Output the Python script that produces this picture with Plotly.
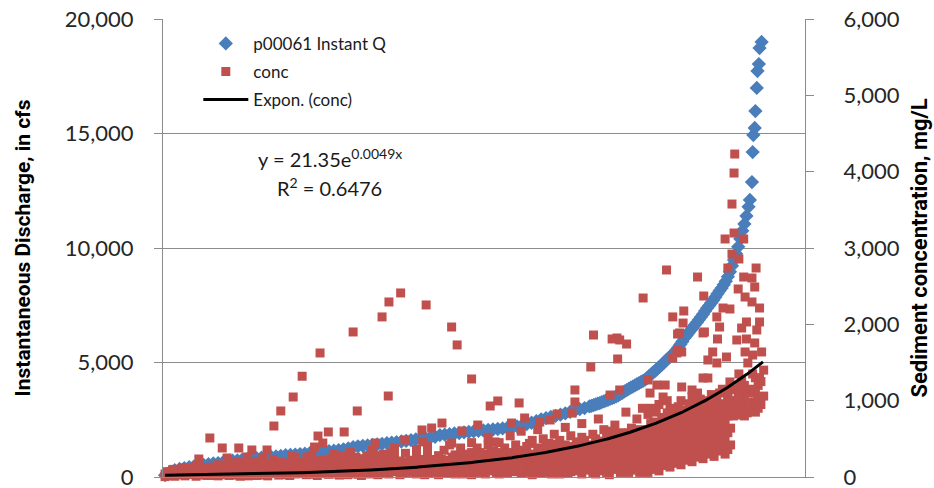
import math
import plotly.graph_objects as go

# ---- Data ----
# Blue series: sample rank (index) and instantaneous discharge, cfs
q_index = [1, 8, 15, 22, 29, 36, 43, 50, 57, 64, 71, 78, 85, 92, 99, 106, 113, 120, 127, 134,
           141, 148, 155, 162, 169, 176, 183, 190, 197, 204, 211, 218, 225, 232, 239, 246, 253, 260, 267, 274,
           281, 288, 295, 302, 309, 316, 323, 330, 337, 344, 351, 358, 365, 372, 379, 386, 393, 400, 407, 414,
           421, 428, 435, 442, 449, 456, 463, 470, 477, 484, 491, 498, 505, 512, 519, 526, 533, 540, 547, 554,
           561, 568, 575, 582, 589, 596, 603, 610, 617,
           620, 623, 626, 629, 632, 635, 638, 641, 644, 647, 650, 653, 656, 659, 662, 665, 668, 671, 674, 677,
           680, 683, 686, 689, 692, 695, 698, 701, 704, 707, 710, 713, 716, 719, 722, 725, 728, 731, 734, 737,
           740, 743, 746, 749, 752, 755, 758, 761, 764, 767, 770, 773, 776, 779, 782, 785, 788, 791, 794, 797,
           800, 803, 806, 809, 812, 815, 818, 821, 824, 827, 830, 833, 836, 839, 842, 845, 848, 850,
           853, 854, 855, 857, 858, 860, 861, 863, 864, 867]
q_cfs = [80, 220, 300, 350, 390, 430, 460, 500, 530, 560, 590, 610, 640, 680, 710, 730, 760, 780, 800, 820,
         840, 860, 880, 900, 920, 950, 965, 980, 1000, 1020, 1040, 1070, 1090, 1110, 1130, 1150, 1175, 1210, 1250, 1300,
         1340, 1360, 1380, 1400, 1420, 1450, 1475, 1495, 1520, 1550, 1580, 1610, 1640, 1665, 1690, 1720, 1755, 1830, 1850, 1870,
         1900, 1920, 1945, 1970, 1995, 2020, 2040, 2060, 2075, 2095, 2120, 2150, 2180, 2215, 2250, 2310, 2370, 2440, 2520, 2570,
         2620, 2670, 2720, 2780, 2840, 2900, 2960, 3010, 3080,
         3110, 3140, 3170, 3200, 3230, 3270, 3300, 3340, 3370, 3410, 3440, 3480, 3520, 3570, 3630, 3680, 3740, 3790, 3850, 3900,
         3950, 4000, 4050, 4100, 4150, 4200, 4250, 4330, 4410, 4490, 4580, 4650, 4730, 4820, 4900, 4990, 5080, 5170, 5250, 5340,
         5430, 5540, 5660, 5790, 5920, 6070, 6180, 6300, 6410, 6520, 6640, 6750, 6870, 6990, 7110, 7250, 7380, 7490, 7610, 7730,
         7860, 8000, 8130, 8250, 8400, 8550, 8750, 8960, 9220, 9480, 9750, 10050, 10400, 10750, 11050, 11400, 11800, 12100,
         12880, 14190, 14930, 15240, 15980, 16990, 17730, 18030, 18730, 19000]

# Red series: sediment concentration, mg/L, grouped by sample rank (dense band)
conc_columns = [
    (1, [5, 40]), (8, [20, 70]), (15, [10, 50, 100]), (22, [30, 80]), (30, [15, 60, 120]),
    (38, [35, 90]), (46, [10, 70, 140]), (54, [40, 100]), (62, [20, 80]), (70, [50, 130]),
    (78, [15, 90, 160]), (86, [40, 110]), (94, [20, 70, 150]), (102, [45, 120]), (110, [10, 80, 180]),
    (118, [30, 110]), (126, [60, 140]), (134, [20, 90, 200]), (142, [40, 120]), (150, [15, 70, 160]),
    (158, [50, 110, 230]), (166, [25, 90, 150]), (174, [60, 130]), (182, [20, 100, 180]), (190, [40, 150, 260]),
    (198, [70, 120]), (206, [30, 100, 200]), (214, [55, 160, 280]), (222, [20, 90, 140]), (230, [60, 130, 220]),
    (238, [35, 110, 190]), (246, [80, 150, 300]), (254, [25, 100, 170]), (262, [60, 130, 240]), (270, [40, 90, 200, 320]),
    (278, [70, 150, 260]), (286, [20, 110, 190]), (294, [50, 140, 280]), (302, [85, 170, 350]), (310, [30, 120, 230]),
    (318, [60, 160, 300]), (326, [40, 100, 210]), (334, [80, 150, 270, 380]), (342, [30, 120, 200]), (350, [60, 170, 310]),
    (358, [100, 140, 220]), (366, [40, 130, 260, 360]), (374, [80, 190]), (382, [50, 150, 300, 400]), (390, [110, 230]),
    (398, [30, 170, 280]), (406, [70, 140, 350]), (414, [100, 220, 420]), (422, [40, 160, 290]), (430, [90, 200, 380]),
    (438, [60, 130, 260]), (446, [30, 170, 320, 450]), (454, [100, 240, 380]), (462, [60, 190, 300]), (470, [130, 270, 420, 520]),
    (478, [80, 200, 340]), (486, [40, 160, 290, 450]), (494, [110, 240, 380]), (502, [70, 180, 320, 540]), (510, [140, 270, 420]),
    (518, [50, 200, 350, 600]), (526, [100, 250, 400]), (534, [30, 170, 300, 480]), (542, [120, 230, 380, 620]), (550, [60, 200, 330, 500]),
    (558, [140, 280, 440]), (566, [90, 220, 370, 560]), (574, [40, 170, 310, 480]), (582, [120, 250, 420, 650]), (590, [70, 200, 350, 540]),
    (598, [150, 300, 460]), (606, [40, 180, 340, 520, 700]), (614, [110, 260, 420]), (622, [60, 200, 370, 560]), (630, [140, 300, 470, 760]),
    (638, [80, 230, 400, 620]), (646, [30, 180, 330, 510]), (654, [120, 280, 450, 680]), (662, [60, 220, 390, 580]), (670, [160, 330, 500, 850]),
    (678, [90, 250, 440, 640]), (686, [190, 360, 540, 760]), (694, [120, 290, 470, 900]), (702, [60, 230, 400, 620, 820]), (710, [160, 340, 520, 720]),
    (718, [80, 270, 450, 650, 950]), (726, [200, 380, 580, 780]), (734, [130, 300, 500, 700, 900]), (742, [240, 420, 620, 850]), (750, [160, 350, 560, 760, 1000]),
    (758, [280, 470, 680, 880]), (766, [200, 400, 600, 820, 1050]), (774, [320, 520, 740, 950]), (782, [240, 430, 650, 860]), (790, [350, 560, 780, 1000]),
    (798, [270, 470, 700, 920]), (806, [380, 600, 820, 1100]), (814, [300, 500, 720, 960]), (822, [420, 640, 880, 1150]), (830, [850, 1000]),
    (838, [920, 1250]), (846, [840, 1100]), (854, [980, 1350]), (862, [900, 1200]), (870, [1060, 1400]),
]
conc_columns_mid = [
    (4, [25, 70]), (12, [45, 95]), (19, [30, 75]), (26, [55, 110]), (34, [40, 95]), (42, [60, 115]),
    (50, [25, 85]), (58, [65, 125]), (66, [35, 105]), (74, [20, 90]), (82, [60, 130]), (90, [30, 85]),
    (98, [50, 110]), (106, [25, 95, 160]), (114, [55, 130]), (122, [15, 85, 165]), (130, [45, 115]), (138, [65, 150]),
    (146, [25, 95, 175]), (154, [45, 125]), (162, [80, 160]), (170, [40, 115, 190]), (178, [30, 95, 165]), (186, [60, 140]),
    (194, [95, 200]), (202, [45, 160]), (210, [75, 130, 240]), (218, [35, 115, 210]), (226, [70, 180]), (234, [45, 100, 170]),
    (242, [60, 140, 240]), (250, [40, 120, 210]), (258, [85, 160, 280]), (266, [30, 110, 170]), (274, [60, 140, 250]), (282, [35, 100, 200]),
    (290, [80, 160, 240]), (298, [40, 120, 210]), (306, [60, 140, 280]), (314, [90, 190, 270]), (322, [45, 130, 240]), (330, [70, 180, 320]),
    (338, [110, 210]), (346, [50, 150]), (354, [80, 190]), (362, [60, 180]), (370, [110, 230]), (378, [30, 130]),
    (386, [90, 200]), (394, [60, 160]), (402, [100, 230]), (410, [50, 180]), (418, [130, 260]), (426, [70, 230]),
    (434, [40, 150, 300]), (442, [100, 220]), (450, [60, 200]), (458, [140, 320]), (466, [40, 230]), (474, [100, 190, 340]),
    (482, [60, 250]), (490, [130, 320]), (498, [50, 210]), (506, [110, 250]), (514, [70, 310]), (522, [180, 330]),
    (530, [60, 220, 440]), (538, [100, 270]), (546, [50, 160, 300]), (554, [110, 260, 420]), (562, [40, 180, 330]), (570, [130, 270, 430]),
    (578, [90, 230, 390]), (586, [50, 180, 330]), (594, [110, 250, 400]), (602, [80, 230, 380]), (610, [150, 300, 480]), (618, [90, 240, 400]),
    (626, [40, 180, 330, 500]), (634, [110, 260, 420]), (642, [60, 200, 360, 540]), (650, [100, 250, 400, 600]), (658, [180, 350, 520]), (666, [100, 280, 450]),
    (674, [60, 240, 410, 580]), (682, [140, 320, 500]), (690, [60, 230, 420, 620]), (698, [160, 340, 540]), (706, [100, 300, 480, 700, 900]), (714, [220, 420, 600, 850]),
    (722, [150, 360, 540, 740]), (730, [250, 450, 640, 840, 1000]), (738, [180, 380, 560, 780]), (746, [300, 500, 700, 920]), (754, [220, 420, 620, 830]), (762, [330, 540, 750, 960]),
    (770, [260, 460, 680, 880]), (778, [380, 600, 820, 1020]), (786, [300, 520, 720, 940]), (794, [420, 620, 850, 1080]), (802, [340, 560, 760, 1000]), (810, [460, 680, 900, 1150]),
    (818, [360, 580, 800, 1050]), (826, [800, 950, 1150]), (834, [880, 1100, 1350]), (842, [800, 1000, 1200]), (850, [900, 1150]), (858, [850, 1100, 1300]),
    (866, [950, 1250]),
]
conc_outliers = [
    (50, 236), (66, 511), (84, 380), (91, 249), (108, 380), (105, 197), (127, 354), (120, 262), (149, 354), (143, 249),
    (159, 668), (169, 865), (187, 1048), (200, 1320), (226, 1625), (274, 1900), (316, 2097), (326, 2293), (343, 2411), (380, 2254),
    (417, 1965), (425, 1730), (446, 1284), (325, 1061), (280, 865), (261, 590), (473, 930), (484, 996), (515, 970), (374, 616),
    (388, 642), (403, 707), (432, 603), (455, 681), (504, 707), (523, 773), (545, 720), (560, 747), (306, 445), (349, 485),
    (375, 459), (417, 445), (480, 459), (218, 393), (223, 537), (230, 445), (238, 590), (185, 275), (207, 262), (245, 249),
    (258, 197),
    (729, 2712), (774, 2620), (695, 2345), (783, 2371), (738, 2097), (754, 2175), (745, 1873), (753, 2017), (623, 1860), (650, 1808),
    (657, 1821), (671, 1742), (658, 1546), (619, 1441), (782, 1887), (744, 1625), (738, 1559), (751, 1638), (596, 1140), (596, 983),
    (570, 825), (647, 1074), (661, 1140), (592, 838), (702, 1271), (715, 1205), (727, 1205), (724, 1048), (705, 1100), (751, 1179),
    (782, 1297), (821, 1245), (833, 1074), (831, 812), (806, 904), (802, 786), (787, 524), (811, 576), (767, 707), (751, 616),
    (828, 4231), (827, 3982), (824, 3576), (827, 3196), (814, 3118), (841, 3118), (824, 2921), (834, 2856), (818, 2738), (859, 2738),
    (841, 2620), (853, 2607), (857, 2489), (833, 2463), (843, 2358), (853, 2293), (864, 2214), (811, 2214), (821, 2201), (802, 2097),
    (806, 1965), (845, 2031), (864, 2031), (838, 1952), (860, 1926), (831, 1795), (845, 1808), (857, 1756), (803, 1808), (843, 1638),
    (867, 1638), (854, 1598), (796, 1638), (789, 1533), (816, 1572), (802, 1494), (847, 1494), (864, 1297), (789, 1297), (861, 1048),
    (835, 1179), (818, 1048), (748, 1887), (745, 1664), (784, 1900), (661, 1795), (774, 1100), (766, 1140),
]

# Exponential trendline printed on the chart: y = 21.35 e^(0.0049x)
trend_a = 21.35
trend_b = 0.0049
n_samples = 869

left_ticks = [0, 5000, 10000, 15000, 20000]
right_ticks = [0, 1000, 2000, 3000, 4000, 5000, 6000]

# ---- Build traces ----
conc_x, conc_y = [], []
for xi, vals in conc_columns + conc_columns_mid:
    for v in vals:
        conc_x.append(xi)
        conc_y.append(v)
for xi, v in conc_outliers:
    conc_x.append(xi)
    conc_y.append(v)

trend_x = list(range(1, n_samples + 1))
trend_y = [trend_a * math.exp(trend_b * xv) for xv in trend_x]

FONT = "Lato"
TFONT = "Roboto"
GRID = "#8c8c8c"
BLUE = "#4A7EBB"
RED = "#C0504D"

fig = go.Figure()
fig.add_trace(go.Scatter(
    x=q_index, y=q_cfs, mode="markers", name="p00061 Instant Q",
    marker=dict(symbol="diamond", size=11, color=BLUE, line=dict(width=0)),
    yaxis="y", cliponaxis=False, legendgroup="g1"))
fig.add_trace(go.Scatter(
    x=conc_x, y=conc_y, mode="markers", name="conc",
    marker=dict(symbol="square", size=9, color=RED, line=dict(width=0)),
    yaxis="y2", cliponaxis=False, legendgroup="g2"))
fig.add_trace(go.Scatter(
    x=trend_x, y=trend_y, mode="lines", name="Expon. (conc)",
    line=dict(color="black", width=3),
    yaxis="y2", legendgroup="g3"))

fig.update_layout(
    width=934, height=488,
    margin=dict(l=163, r=129, t=19, b=11, autoexpand=False),
    paper_bgcolor="white", plot_bgcolor="white",
    font=dict(family=FONT, color="#1a1a1a"),
    showlegend=True,
    legend=dict(x=0.055, y=0.985, xanchor="left", yanchor="top",
                font=dict(family=FONT, size=17, color="#1a1a1a"),
                itemwidth=45,
                bgcolor="rgba(0,0,0,0)", tracegroupgap=3),
    xaxis=dict(range=[-2, 930], showticklabels=False, ticks="", showgrid=False,
               zeroline=False, showline=True, linecolor=GRID, linewidth=1, automargin=False),
    yaxis=dict(range=[0, 20000], tickvals=left_ticks, tickformat=",",
               showgrid=True, gridcolor=GRID, gridwidth=1, zeroline=False,
               showline=True, linecolor=GRID, linewidth=1, automargin=False,
               ticks="outside", ticklen=8, tickcolor=GRID,
               ticklabelstandoff=16, ticklabeloverflow="allow",
               tickfont=dict(family=FONT, size=22, color="#262626"),
               title=dict(text="<b>Instantaneous Discharge, in cfs</b>", standoff=28,
                          font=dict(family=TFONT, size=21, color="black", weight="bold"))),
    yaxis2=dict(range=[0, 6000], tickvals=right_ticks, tickformat=",",
                overlaying="y", side="right", showgrid=False, zeroline=False,
                showline=True, linecolor=GRID, linewidth=1, automargin=False,
                ticks="outside", ticklen=8, tickcolor=GRID,
                ticklabelstandoff=25, ticklabeloverflow="allow",
                tickfont=dict(family=FONT, size=22, color="#262626"),
                title=dict(text="<b>Sediment concentration, mg/L</b>", standoff=12,
                           font=dict(family=TFONT, size=22, color="black", weight="bold"))),
    annotations=[
        dict(xref="paper", yref="paper", x=0.26, y=0.697, xanchor="center", yanchor="middle",
             showarrow=False, text="y = 21.35e<sup>0.0049x</sup>",
             font=dict(family=FONT, size=20, color="#1a1a1a")),
        dict(xref="paper", yref="paper", x=0.26, y=0.633, xanchor="center", yanchor="middle",
             showarrow=False, text="R<sup>2</sup> = 0.6476",
             font=dict(family=FONT, size=20, color="#1a1a1a")),
    ],
)

fig.write_html("out.html")
